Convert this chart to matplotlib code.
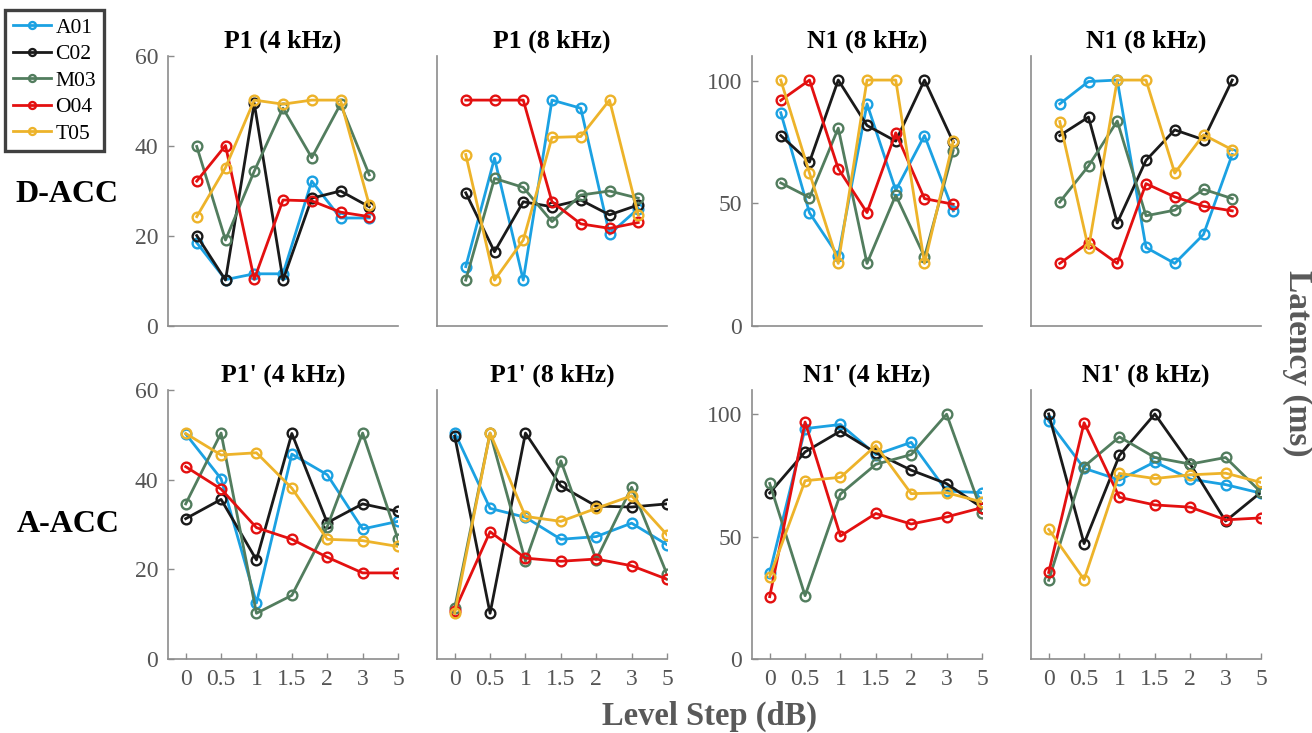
import numpy as np
import matplotlib
matplotlib.use('Agg')
import matplotlib.pyplot as plt

plt.rcParams['font.family'] = ['Liberation Serif', 'DejaVu Serif']

levels = ['0', '0.5', '1', '1.5', '2', '3', '5']
subjects = ['A01', 'C02', 'M03', 'O04', 'T05']
colors = ['#1BA1E2', '#1A1A1A', '#527D5E', '#E31010', '#EDB32A']

# D-ACC row (latency, ms), one list per subject
dacc_p1_4k = [[18.5, 10.3, 11.6, 11.6, 32.2, 24.0, 24.0],
              [20.1, 10.2, 49.5, 10.2, 28.4, 30.0, 26.5],
              [39.9, 19.1, 34.4, 48.4, 37.4, 49.3, 33.6],
              [32.2, 40.1, 10.4, 28.0, 27.8, 25.3, 24.3],
              [24.3, 35.2, 50.2, 49.3, 50.2, 50.2, 26.9]]
dacc_p1_8k = [[13.2, 37.3, 10.2, 50.2, 48.4, 20.4, 26.1],
              [29.6, 16.5, 27.6, 26.5, 28.0, 24.7, 26.9],
              [10.2, 32.8, 30.8, 23.2, 29.1, 30.0, 28.4],
              [50.2, 50.2, 50.2, 27.6, 22.7, 21.7, 23.0],
              [38.1, 10.2, 19.1, 41.9, 42.1, 50.2, 24.7]]
dacc_n1_8k_a = [[86.9, 46.1, 28.5, 90.5, 55.3, 77.6, 46.9],
                [77.6, 66.8, 100.2, 81.7, 75.3, 100.2, 74.9],
                [58.3, 52.3, 80.6, 25.5, 53.3, 28.2, 71.5],
                [91.9, 100.2, 64.1, 46.2, 78.7, 51.9, 49.6],
                [100.2, 62.3, 25.5, 100.2, 100.2, 25.5, 75.3]]
dacc_n1_8k_b = [[90.5, 99.6, 100.2, 32.0, 25.5, 37.3, 69.9],
                [77.6, 85.1, 42.0, 67.5, 79.9, 75.9, 100.2],
                [50.5, 65.2, 83.5, 44.9, 47.2, 55.7, 51.9],
                [25.5, 33.9, 25.5, 58.0, 52.6, 48.8, 46.9],
                [83.3, 31.6, 100.2, 100.2, 62.3, 77.9, 71.8]]

# A-ACC row
aacc_p1_4k = [[50.2, 40.2, 12.5, 45.7, 41.1, 29.0, 30.7],
              [31.3, 35.6, 22.1, 50.3, 30.4, 34.6, 32.9],
              [34.6, 50.4, 10.2, 14.2, 29.5, 50.4, 26.7],
              [42.9, 37.9, 29.3, 26.7, 22.7, 19.2, 19.2],
              [50.3, 45.5, 46.0, 38.1, 26.7, 26.4, 25.1]]
aacc_p1_8k = [[50.5, 33.6, 31.6, 26.7, 27.3, 30.3, 25.5],
              [49.7, 10.2, 50.4, 38.6, 34.1, 33.9, 34.6],
              [11.4, 50.4, 21.8, 44.2, 22.1, 38.3, 18.9],
              [10.8, 28.4, 22.5, 21.8, 22.3, 20.8, 17.8],
              [10.2, 50.4, 31.8, 30.7, 33.6, 36.4, 27.7]]
aacc_n1_4k = [[35.2, 94.2, 95.9, 83.6, 88.6, 68.7, 68.0],
              [67.9, 84.7, 93.2, 84.3, 77.2, 71.7, 61.9],
              [71.8, 25.9, 67.5, 79.6, 83.6, 100.1, 59.9],
              [25.5, 96.9, 50.3, 59.5, 55.2, 58.1, 61.9],
              [33.6, 72.9, 74.3, 87.3, 67.6, 68.0, 64.2]]
aacc_n1_8k = [[97.3, 78.0, 73.2, 80.6, 73.6, 71.3, 67.8],
              [100.2, 47.2, 83.3, 100.2, 79.7, 56.4, 68.2],
              [32.2, 78.7, 90.8, 82.4, 79.7, 82.4, 68.2],
              [35.4, 96.6, 66.1, 63.0, 62.1, 56.9, 57.7],
              [53.0, 32.5, 75.9, 73.8, 75.3, 76.0, 72.2]]

top_titles = ['P1 (4 kHz)', 'P1 (8 kHz)', 'N1 (8 kHz)', 'N1 (8 kHz)']
bot_titles = ["P1' (4 kHz)", "P1' (8 kHz)", "N1' (4 kHz)", "N1' (8 kHz)"]
top_data = [dacc_p1_4k, dacc_p1_8k, dacc_n1_8k_a, dacc_n1_8k_b]
bot_data = [aacc_p1_4k, aacc_p1_8k, aacc_n1_4k, aacc_n1_8k]

W, H = 1312, 733
fig = plt.figure(figsize=(W / 100, H / 100), dpi=100)

lefts = [168, 437, 752, 1031]
axw = 230
axc = '#8C8C8C'
txtc = '#555555'

x = np.arange(len(levels))
handles = []
for row in range(2):
    top_px, bot_px = (56, 326) if row == 0 else (390, 659)
    titles = top_titles if row == 0 else bot_titles
    datas = top_data if row == 0 else bot_data
    for col in range(4):
        ax = fig.add_axes([lefts[col] / W, (H - bot_px) / H, axw / W, (bot_px - top_px) / H])
        for i, s in enumerate(subjects):
            ln, = ax.plot(x, datas[col][i], '-o', color=colors[i], lw=2.0,
                          ms=7, mfc='none', mew=1.7, label=s)
            if row == 0 and col == 0:
                handles.append(ln)
        for sp in ['top', 'right']:
            ax.spines[sp].set_visible(False)
        for sp in ['left', 'bottom']:
            ax.spines[sp].set_color(axc)
            ax.spines[sp].set_linewidth(1.2)
        if col < 2:
            ax.set_ylim(0, 60)
            ax.set_yticks([0, 20, 40, 60])
        else:
            ax.set_ylim(0, 110)
            ax.set_yticks([0, 50, 100])
        if row == 0:
            ax.set_xlim(-1, 7)
            ax.set_xticks([])
        else:
            ax.set_xlim(-0.5, 6)
            ax.set_xticks(x)
            ax.set_xticklabels(levels)
        ax.tick_params(axis='both', direction='in', colors=axc, labelcolor=txtc,
                       labelsize=17, length=4, width=1.0, pad=7)
        if col in (1, 3):
            ax.tick_params(axis='y', left=False, labelleft=False)
        ax.set_title(titles[col], fontsize=18.5, fontweight='bold', pad=6)

fig.text(67 / W, 1 - 195 / H, 'D-ACC', fontsize=23, fontweight='bold',
         ha='center', va='center')
fig.text(68 / W, 1 - 525 / H, 'A-ACC', fontsize=23, fontweight='bold',
         ha='center', va='center')
fig.text(710 / W, 1 - 716 / H, 'Level Step (dB)', fontsize=23.5, fontweight='bold',
         color='#595959', ha='center', va='center')
fig.text(1298 / W, 1 - 363 / H, 'Latency (ms)', fontsize=24, fontweight='bold',
         color='#595959', ha='center', va='center', rotation=270)

leg = fig.legend(handles, subjects, loc='upper left',
                 bbox_to_anchor=(5 / W, 1 - 10 / H), fontsize=15.5,
                 frameon=True, fancybox=False, edgecolor='#404040', framealpha=1,
                 handlelength=1.8, handletextpad=0.2, labelspacing=0.3,
                 borderpad=0.35, borderaxespad=0)
leg.get_frame().set_linewidth(2.4)
for h in leg.legend_handles:
    h.set_markersize(5)

fig.savefig('out.png', dpi=100)
